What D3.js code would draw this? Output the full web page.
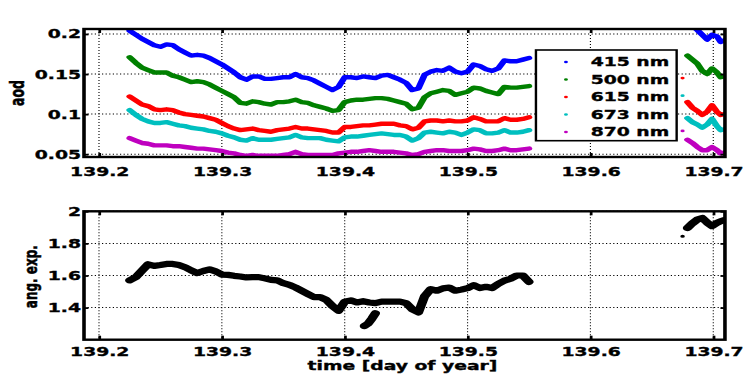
<!DOCTYPE html>
<html>
<head>
<meta charset="utf-8">
<script src="https://cdn.jsdelivr.net/npm/d3@7"></script>
<style>
  body { margin: 0; background: #fff; }
  text { font-family: "DejaVu Sans", sans-serif; font-weight: bold; stroke: #000; stroke-width: 0.35px; }
</style>
</head>
<body>
<div id="chart"></div>
<script>
// --- data --------------------------------------------------------------
const xTicks = [139.2, 139.3, 139.4, 139.5, 139.6, 139.7];
const aodTicks = [0.05, 0.1, 0.15, 0.2];
const angTicks = [1.4, 1.6, 1.8, 2];

const wavelengths = ["415 nm", "500 nm", "615 nm", "673 nm", "870 nm"];
const colors = ["#0000ff", "#008000", "#ff0000", "#00bfbf", "#bf00bf"];

// first block of measurements
const times1 = [139.225,139.230,139.235,139.240,139.245,139.250,139.255,139.260,139.265,139.270,
  139.275,139.280,139.285,139.290,139.295,139.300,139.305,139.310,139.315,139.320,
  139.325,139.330,139.335,139.340,139.345,139.350,139.355,139.360,139.365,139.370,
  139.375,139.380,139.385,139.390,139.395,139.400,139.405,139.410,139.415,139.420,
  139.425,139.430,139.435,139.440,139.445,139.450,139.455,139.460,139.465,139.470,
  139.475,139.480,139.485,139.490,139.495,139.500,139.505,139.510,139.515,139.520,
  139.525,139.530,139.535,139.540,139.545,139.550];
const aod415_1 = [0.204,0.199,0.194,0.190,0.186,0.184,0.187,0.186,0.181,0.177,
  0.173,0.174,0.173,0.170,0.166,0.162,0.157,0.152,0.146,0.143,
  0.147,0.147,0.144,0.144,0.145,0.146,0.146,0.150,0.146,0.145,
  0.142,0.138,0.134,0.130,0.134,0.146,0.146,0.145,0.147,0.146,
  0.145,0.148,0.149,0.146,0.143,0.139,0.130,0.132,0.149,0.153,
  0.155,0.154,0.158,0.153,0.151,0.153,0.162,0.160,0.156,0.154,
  0.157,0.167,0.166,0.166,0.168,0.170];
const aod500_1 = [0.171,0.164,0.158,0.155,0.152,0.152,0.152,0.148,0.146,0.143,
  0.140,0.141,0.140,0.137,0.133,0.129,0.125,0.121,0.114,0.113,
  0.116,0.115,0.113,0.112,0.115,0.115,0.116,0.118,0.115,0.114,
  0.111,0.109,0.107,0.104,0.105,0.115,0.117,0.118,0.118,0.119,
  0.120,0.120,0.119,0.117,0.115,0.113,0.106,0.108,0.121,0.126,
  0.128,0.130,0.129,0.124,0.126,0.128,0.133,0.132,0.129,0.127,
  0.125,0.134,0.133,0.133,0.134,0.135];
const aod615_1 = [0.122,0.117,0.112,0.110,0.106,0.105,0.106,0.105,0.102,0.100,
  0.099,0.098,0.097,0.095,0.093,0.089,0.085,0.082,0.080,0.081,
  0.082,0.080,0.079,0.078,0.080,0.081,0.082,0.084,0.082,0.082,
  0.081,0.080,0.079,0.077,0.077,0.084,0.084,0.085,0.086,0.086,
  0.087,0.088,0.088,0.088,0.086,0.085,0.081,0.083,0.091,0.092,
  0.092,0.091,0.092,0.091,0.091,0.092,0.096,0.094,0.091,0.091,
  0.091,0.095,0.093,0.093,0.094,0.096];
const aod673_1 = [0.105,0.099,0.094,0.091,0.089,0.089,0.090,0.088,0.086,0.085,
  0.083,0.082,0.081,0.079,0.078,0.076,0.073,0.071,0.068,0.067,
  0.070,0.068,0.068,0.068,0.069,0.070,0.071,0.074,0.071,0.070,
  0.070,0.070,0.068,0.067,0.066,0.071,0.072,0.072,0.073,0.074,
  0.075,0.076,0.075,0.074,0.074,0.072,0.067,0.070,0.077,0.078,
  0.077,0.076,0.078,0.077,0.074,0.077,0.081,0.080,0.076,0.076,
  0.077,0.080,0.077,0.077,0.078,0.080];
const aod870_1 = [0.070,0.067,0.064,0.063,0.061,0.061,0.061,0.060,0.060,0.059,
  0.058,0.057,0.057,0.056,0.055,0.054,0.052,0.051,0.049,0.048,
  0.049,0.048,0.048,0.048,0.048,0.049,0.050,0.053,0.050,0.049,
  0.049,0.049,0.049,0.049,0.051,0.052,0.053,0.053,0.054,0.055,
  0.054,0.053,0.053,0.053,0.052,0.051,0.049,0.050,0.053,0.054,
  0.055,0.055,0.054,0.054,0.054,0.055,0.057,0.056,0.054,0.054,
  0.055,0.057,0.055,0.055,0.056,0.057];
const angExp_1 = [1.570,1.590,1.630,1.670,1.660,1.665,1.672,1.672,1.665,1.652,
  1.632,1.615,1.628,1.638,1.626,1.606,1.604,1.598,1.594,1.588,
  1.590,1.590,1.582,1.573,1.570,1.552,1.542,1.525,1.505,1.485,
  1.465,1.465,1.448,1.410,1.380,1.437,1.445,1.432,1.440,1.432,
  1.428,1.437,1.437,1.437,1.437,1.428,1.390,1.370,1.470,1.515,
  1.505,1.520,1.525,1.505,1.512,1.521,1.540,1.522,1.530,1.522,
  1.548,1.568,1.580,1.600,1.600,1.560];

// short dip cluster in the angstrom exponent
const dipTimes = [139.416, 139.419, 139.422, 139.425];
const angDip = [1.285, 1.300, 1.330, 1.365];

// second block of measurements
const times2 = [139.679,139.683,139.687,139.691,139.695,139.699,139.703,139.706,139.709];
const aod415_2 = [0.214,0.210,0.205,0.199,0.193,0.199,0.197,0.190,0.192];
const aod500_2 = [0.173,0.168,0.163,0.154,0.150,0.157,0.152,0.146,0.147];
const aod615_2 = [0.115,0.108,0.104,0.099,0.103,0.111,0.103,0.099,0.100];
const aod673_2 = [0.095,0.090,0.087,0.083,0.087,0.094,0.085,0.080,0.081];
const aod870_2 = [0.068,0.064,0.059,0.055,0.055,0.059,0.055,0.051,0.052];
const angExp_2 = [1.896,1.925,1.948,1.958,1.930,1.908,1.928,1.938,1.945];

// single stray samples just before the second block
const strayTime = 139.675;
const aodStray = [null, null, 0.145, 0.123, 0.079];
const angStray = 1.844;
// -----------------------------------------------------------------------

(function () {
  // the figure was exported stretched 1.5x horizontally, so draw in a
  // 504-wide space and let the viewBox stretch it to 756px
  const W = 504, H = 378;
  const svg = d3.select("#chart").append("svg")
    .attr("width", 756).attr("height", 378)
    .attr("viewBox", `0 0 ${W} ${H}`)
    .attr("preserveAspectRatio", "none");

  const x = d3.scaleLinear().domain([139.1878, 139.7095]).range([56, 483.3]);
  const yAod = d3.scaleLinear().domain([0.0465, 0.2062]).range([157, 29]);
  const yAng = d3.scaleLinear().domain([1.2, 2.0]).range([339.7, 211.3]);

  const series = wavelengths.map((name, i) => ({
    name,
    color: colors[i],
    seg1: [aod415_1, aod500_1, aod615_1, aod673_1, aod870_1][i],
    seg2: [aod415_2, aod500_2, aod615_2, aod673_2, aod870_2][i],
    stray: aodStray[i]
  }));

  function panel(id, y, yTicks) {
    const [x0, x1] = x.range();
    const [yb, yt] = y.range();
    const g = svg.append("g");
    g.append("clipPath").attr("id", id)
      .append("rect")
      .attr("x", x0).attr("y", yt)
      .attr("width", x1 - x0).attr("height", yb - yt);

    // dotted grid
    g.append("g").selectAll("line").data(xTicks).join("line")
      .attr("x1", d => x(d)).attr("x2", d => x(d))
      .attr("y1", yt).attr("y2", yb)
      .attr("stroke", "#000").attr("stroke-width", 0.75)
      .attr("stroke-dasharray", "1,2");
    g.append("g").selectAll("line").data(yTicks).join("line")
      .attr("x1", x0).attr("x2", x1)
      .attr("y1", d => y(d)).attr("y2", d => y(d))
      .attr("stroke", "#000").attr("stroke-width", 1)
      .attr("stroke-dasharray", "0.8,1.6");

    const plot = g.append("g").attr("clip-path", `url(#${id})`);
    return { g, plot };
  }

  function frame(g, y, yTicks, xPad) {
    const [x0, x1] = x.range();
    const [yb, yt] = y.range();
    const fmt = d3.format("~g");

    const axes = [
      g.append("g").attr("transform", `translate(0,${yb})`)
        .call(d3.axisBottom(x).tickValues(xTicks).tickSize(-4).tickPadding(xPad)
          .tickFormat(d3.format(".1f"))),
      g.append("g").attr("transform", `translate(0,${yt})`)
        .call(d3.axisTop(x).tickValues(xTicks).tickSize(-4).tickFormat("")),
      g.append("g").attr("transform", `translate(${x0},0)`)
        .call(d3.axisLeft(y).tickValues(yTicks).tickSize(-3).tickPadding(2).tickFormat(fmt)),
      g.append("g").attr("transform", `translate(${x1},0)`)
        .call(d3.axisRight(y).tickValues(yTicks).tickSize(-3).tickFormat(""))
    ];
    axes.forEach(a => {
      a.attr("font-size", 12.5).attr("font-family", "DejaVu Sans");
      a.select(".domain").remove();
      a.selectAll(".tick line").attr("stroke", "#000").attr("stroke-width", 1.8);
      a.selectAll(".tick text").attr("fill", "#000");
    });

    g.append("rect")
      .attr("x", x0).attr("y", yt)
      .attr("width", x1 - x0).attr("height", yb - yt)
      .attr("fill", "none").attr("stroke", "#000").attr("stroke-width", 2.4);
  }

  // ---------------- top: aerosol optical depth ----------------
  const top = panel("clip-aod", yAod, aodTicks);
  const lineAod = d3.line().x(d => x(d[0])).y(d => yAod(d[1]));

  series.forEach(s => {
    [[times1, s.seg1], [times2, s.seg2]].forEach(([t, v]) => {
      top.plot.append("path")
        .datum(d3.zip(t, v))
        .attr("d", lineAod)
        .attr("fill", "none")
        .attr("stroke", s.color)
        .attr("stroke-width", 4.4)
        .attr("stroke-linejoin", "round")
        .attr("stroke-linecap", "round");
    });
    if (s.stray != null) {
      top.plot.append("circle")
        .attr("cx", x(strayTime)).attr("cy", yAod(s.stray))
        .attr("r", 1.4).attr("fill", s.color);
    }
  });

  frame(top.g, yAod, aodTicks, 9.8);

  svg.append("text")
    .attr("transform", "translate(16,93) rotate(-90)")
    .attr("text-anchor", "middle")
    .attr("font-size", 12.5)
    .text("aod");

  // legend
  const leg = svg.append("g");
  leg.append("rect")
    .attr("x", 357.3).attr("y", 50)
    .attr("width", 93.8).attr("height", 90.7)
    .attr("fill", "#fff").attr("stroke", "#000").attr("stroke-width", 1.6);
  series.forEach((s, i) => {
    const yy = 62 + i * 17.5;
    leg.append("circle")
      .attr("cx", 377.3).attr("cy", yy).attr("r", 1.3)
      .attr("fill", s.color);
    leg.append("text")
      .attr("x", 393.8).attr("y", yy).attr("dy", "0.36em")
      .attr("font-size", 12.5)
      .text(s.name);
  });

  // ---------------- bottom: angstrom exponent ----------------
  const bot = panel("clip-ang", yAng, angTicks);
  const lineAng = d3.line().x(d => x(d[0])).y(d => yAng(d[1]));

  [[times1, angExp_1], [dipTimes, angDip], [times2, angExp_2]].forEach(([t, v]) => {
    bot.plot.append("path")
      .datum(d3.zip(t, v))
      .attr("d", lineAng)
      .attr("fill", "none")
      .attr("stroke", "#000")
      .attr("stroke-width", 6.2)
      .attr("stroke-linejoin", "round")
      .attr("stroke-linecap", "round");
  });
  bot.plot.append("circle")
    .attr("cx", x(strayTime)).attr("cy", yAng(angStray))
    .attr("r", 1.5).attr("fill", "#000");

  frame(bot.g, yAng, angTicks, 7);

  svg.append("text")
    .attr("transform", "translate(24.9,276.7) rotate(-90)")
    .attr("text-anchor", "middle")
    .attr("font-size", 12)
    .text("ang. exp.");

  svg.append("text")
    .attr("x", 268.3).attr("y", 370)
    .attr("text-anchor", "middle")
    .attr("font-size", 12.5)
    .text("time [day of year]");
})();
</script>
</body>
</html>
